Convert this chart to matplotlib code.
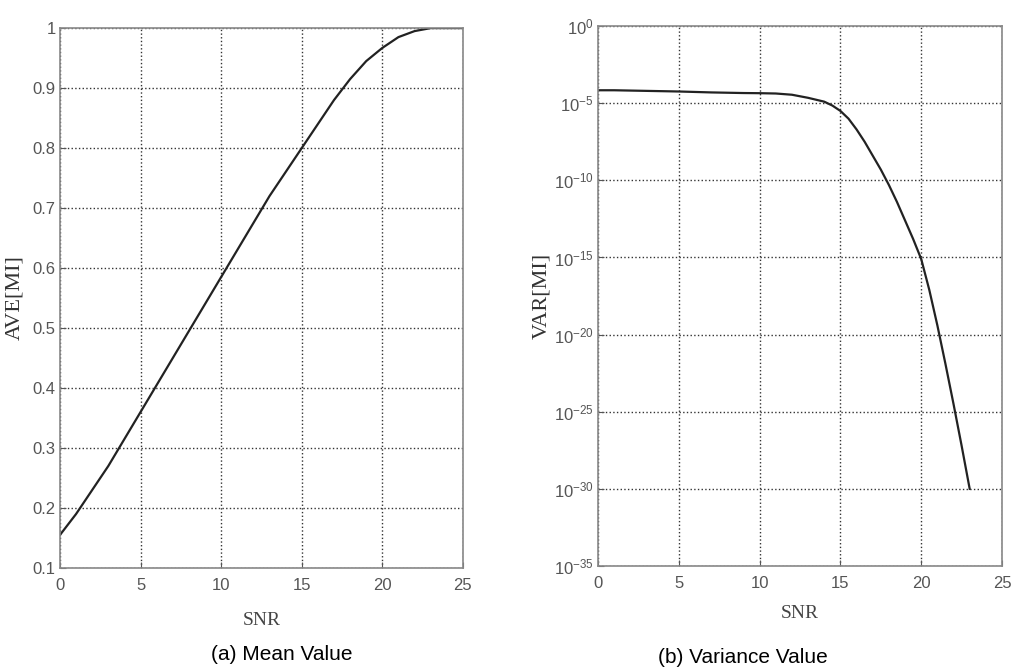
import matplotlib
matplotlib.use('Agg')
import matplotlib.pyplot as plt

# SNR axis shared by both curves
snr = [0, 1, 2, 3, 4, 5, 6, 7, 8, 9, 10, 11, 12, 13, 14, 15, 16, 17, 18, 19, 20, 21, 22, 23, 24, 25]
ave_mi = [0.155, 0.19, 0.23, 0.27, 0.315, 0.36, 0.405, 0.45, 0.495, 0.54, 0.585, 0.63, 0.675,
          0.72, 0.76, 0.80, 0.84, 0.88, 0.915, 0.945, 0.967, 0.985, 0.995, 1.0, 1.0, 1.0]

snr_var = [0, 1, 2, 3, 4, 5, 6, 7, 8, 9, 10, 11, 12, 13, 14, 14.5, 15, 15.5, 16, 16.5, 17,
           17.5, 18, 18.5, 19, 19.5, 20, 20.5, 21, 21.5, 22, 22.5, 23]
log_var_mi = [-4.16, -4.16, -4.18, -4.2, -4.22, -4.24, -4.27, -4.3, -4.32, -4.34, -4.35, -4.37,
              -4.45, -4.65, -4.9, -5.15, -5.5, -6.0, -6.7, -7.5, -8.4,
              -9.3, -10.3, -11.4, -12.6, -13.8, -15.1, -17.1, -19.4, -21.9, -24.5, -27.2, -30.0]

x_ticks = [0, 5, 10, 15, 20, 25]
y_ticks_a = [0.1, 0.2, 0.3, 0.4, 0.5, 0.6, 0.7, 0.8, 0.9, 1]
y_tick_labels_a = ['0.1', '0.2', '0.3', '0.4', '0.5', '0.6', '0.7', '0.8', '0.9', '1']
y_exps_b = [0, -5, -10, -15, -20, -25, -30, -35]

tick_font = 'Liberation Sans'
label_font = 'Liberation Serif'
tick_color = '#555555'

plt.rcParams['mathtext.fontset'] = 'custom'
plt.rcParams['mathtext.rm'] = 'Liberation Sans'
plt.rcParams['mathtext.it'] = 'Liberation Sans'
plt.rcParams['mathtext.default'] = 'regular'

fig = plt.figure(figsize=(10.11, 6.69), dpi=100)
ax1 = fig.add_axes([0.0593, 0.151, 0.3986, 0.807])
ax2 = fig.add_axes([0.5915, 0.154, 0.3996, 0.807])

ax1.plot(snr, ave_mi, color='#222222', linewidth=1.6)
ax1.set_xlim(0, 25)
ax1.set_ylim(0.1, 1)
ax1.set_xticks(x_ticks)
ax1.set_yticks(y_ticks_a)
ax1.set_yticklabels(y_tick_labels_a)
ax1.set_xlabel('SNR', fontfamily=label_font, fontsize=14, color='#444444', labelpad=14)
ax1.set_ylabel('AVE[MI]', fontfamily=label_font, fontsize=16, color='#333333', labelpad=6)

ax2.plot(snr_var, [10.0 ** v for v in log_var_mi], color='#222222', linewidth=1.6)
ax2.set_yscale('log')
ax2.set_xlim(0, 25)
ax2.set_ylim(1e-35, 1e0)
ax2.set_xticks(x_ticks)
ax2.set_yticks([10.0 ** e for e in y_exps_b])
ax2.set_yticklabels(['$10^{%d}$' % e for e in y_exps_b])
ax2.minorticks_off()
ax2.set_xlabel('SNR', fontfamily=label_font, fontsize=14, color='#444444', labelpad=10)
ax2.set_ylabel('VAR[MI]', fontfamily=label_font, fontsize=16, color='#333333', labelpad=2)

for ax in (ax1, ax2):
    ax.grid(True, linestyle=':', color='#333333', linewidth=1.0)
    ax.tick_params(direction='in', length=4, colors=tick_color, labelsize=12)
    ax.tick_params(axis='y', pad=3)
    ax.tick_params(axis='x', pad=7)
    for lab in ax.get_xticklabels() + ax.get_yticklabels():
        lab.set_fontfamily(tick_font)
    for sp in ax.spines.values():
        sp.set_color('#888888')
        sp.set_linewidth(1.2)

fig.text(0.279, 0.021, '(a) Mean Value', ha='center', va='center', fontfamily=tick_font, fontsize=15)
fig.text(0.735, 0.017, '(b) Variance Value', ha='center', va='center', fontfamily=tick_font, fontsize=15)

fig.savefig('out.png', dpi=100)
plt.close('all')
